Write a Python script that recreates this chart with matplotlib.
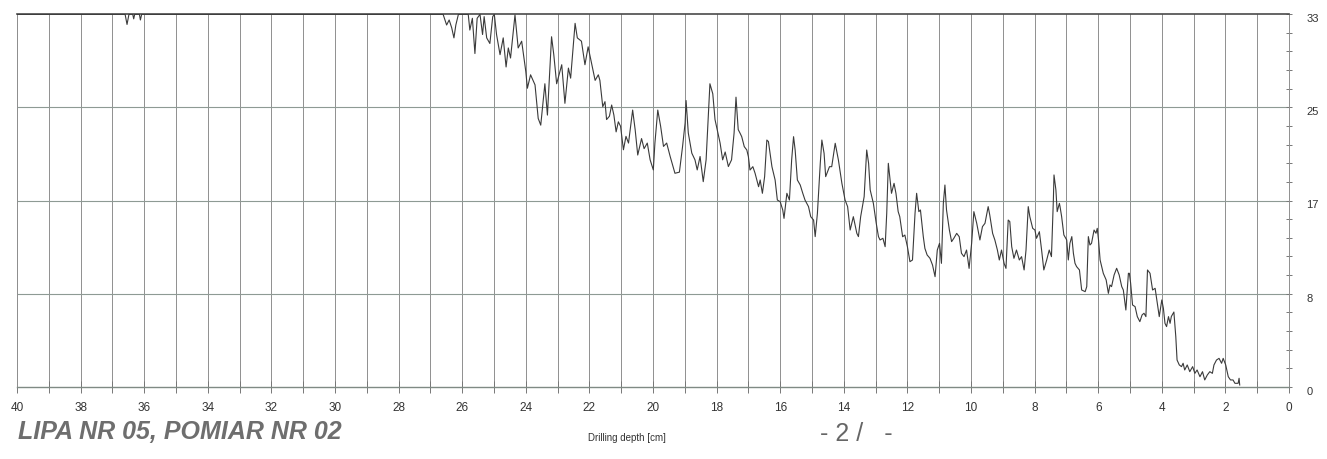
import matplotlib.pyplot as plt
from matplotlib.ticker import FixedLocator, FuncFormatter

# resistance trace read along the drilling path (depth in cm, amplitude)
depth = [
    40.0, 36.60, 36.54, 36.48, 36.36, 36.33, 36.30, 36.15, 36.12, 36.08, 26.75,
    26.70, 26.60, 26.49, 26.41, 26.33, 26.26, 26.20, 26.12, 25.81, 25.76,
    25.68, 25.60, 25.53, 25.44, 25.36, 25.31, 25.23, 25.13, 25.04, 24.99,
    24.92, 24.81, 24.71, 24.62, 24.55, 24.48, 24.34, 24.24, 24.13, 24.00,
    23.95, 23.85, 23.71, 23.61, 23.53, 23.40, 23.32, 23.19, 23.12, 23.03,
    22.87, 22.77, 22.66, 22.59, 22.45, 22.38, 22.25, 22.14, 22.04, 21.93,
    21.82, 21.72, 21.67, 21.58, 21.51, 21.46, 21.37, 21.30, 21.23, 21.16,
    21.09, 21.02, 20.93, 20.85, 20.77, 20.64, 20.56, 20.48, 20.36, 20.28,
    20.18, 20.09, 19.99, 19.94, 19.85, 19.76, 19.67, 19.57, 19.46, 19.31,
    19.17, 19.07, 18.99, 18.96, 18.89, 18.78, 18.68, 18.61, 18.52, 18.42,
    18.33, 18.26, 18.21, 18.12, 18.05, 17.98, 17.89, 17.81, 17.73, 17.63,
    17.53, 17.45, 17.39, 17.32,
    17.26, 17.21, 17.13, 17.05, 17.00, 16.95, 16.86, 16.79, 16.68, 16.63,
    16.56, 16.49, 16.42, 16.37, 16.26, 16.16, 16.09, 16.00, 15.92, 15.88,
    15.79, 15.71, 15.64, 15.58, 15.53, 15.46, 15.37, 15.29, 15.22, 15.11,
    15.04, 14.95, 14.90, 14.83, 14.74, 14.69, 14.62, 14.57, 14.45, 14.38,
    14.27, 14.17, 14.06, 13.96, 13.88, 13.80, 13.70, 13.59, 13.54, 13.47,
    13.36, 13.28, 13.22, 13.17, 13.07, 12.98, 12.91, 12.86, 12.77, 12.70,
    12.65, 12.60,
    12.50, 12.42, 12.36, 12.29, 12.24, 12.15, 12.08, 12.00, 11.92, 11.84,
    11.76, 11.71, 11.64, 11.59, 11.50, 11.45, 11.38, 11.29, 11.21, 11.13,
    11.06, 10.99, 10.93, 10.87, 10.82, 10.77, 10.68, 10.61, 10.54, 10.45,
    10.37, 10.30, 10.22, 10.14, 10.06, 9.98, 9.91, 9.82, 9.77, 9.72,
    9.64, 9.56, 9.46, 9.41, 9.32, 9.25, 9.17, 9.11, 9.04, 8.96,
    8.90, 8.83, 8.78, 8.72, 8.65, 8.57, 8.48, 8.41, 8.33, 8.27,
    8.20, 8.15, 8.06, 7.99, 7.94, 7.85, 7.78, 7.71, 7.62, 7.54,
    7.47, 7.41, 7.39, 7.33, 7.29, 7.22,
    7.20, 7.15, 7.08, 6.99, 6.94, 6.89, 6.83, 6.78, 6.73, 6.68,
    6.59, 6.52, 6.41, 6.36, 6.31, 6.26, 6.21, 6.13, 6.07, 6.03,
    5.99, 5.94, 5.89, 5.84, 5.75, 5.68, 5.63, 5.58, 5.50, 5.42,
    5.34, 5.26, 5.21, 5.13, 5.05, 5.02, 4.98, 4.92, 4.84, 4.77,
    4.69, 4.62, 4.56, 4.50, 4.45, 4.37, 4.29, 4.21, 4.14, 4.08,
    4.00, 3.95, 3.90, 3.85, 3.79, 3.74,
    3.70, 3.62, 3.56, 3.52, 3.45, 3.38, 3.33, 3.28, 3.20, 3.12,
    3.03, 2.96, 2.89, 2.80, 2.72, 2.65, 2.57, 2.49, 2.41, 2.36,
    2.28, 2.20, 2.12, 2.07, 1.99, 1.91, 1.84, 1.76, 1.70, 1.60,
    1.57, 1.55,
]
amplitude = [
    33.3, 33.3, 32.4, 33.3, 33.3, 32.9, 33.3, 33.3, 32.8, 33.3, 33.3,
    33.3, 33.3, 32.35, 32.8, 32.1, 31.2, 32.35, 33.3, 33.3, 31.9,
    32.95, 29.8, 32.95, 33.3, 31.5, 33.1, 31.2, 30.7, 33.1, 33.3,
    31.5, 29.7, 31.2, 28.6, 30.3, 29.4, 33.25, 30.3, 30.9, 28.2,
    26.7, 27.9, 27.0, 24.0, 23.4, 27.1, 24.3, 31.3, 29.7, 27.1,
    28.8, 25.35, 28.5, 27.6, 32.5, 31.2, 30.9, 28.8, 30.4, 28.9,
    27.4, 27.9, 27.4, 25.05, 25.5, 23.9, 24.2, 25.2, 24.3, 22.8,
    23.7, 23.3, 21.2, 22.4, 21.8, 24.75, 22.97, 20.73, 22.2, 21.3,
    21.8, 20.3, 19.4, 21.8, 24.75, 23.3, 21.5, 21.8, 20.6, 19.1,
    19.2, 21.5, 23.6, 25.6, 22.7, 20.9, 20.3, 19.4, 20.6, 18.35,
    20.3, 24.2, 27.1, 26.2, 23.9, 23.0, 21.8, 20.3, 21.0, 19.7,
    20.3, 22.7, 25.9, 23.0,
    22.67, 22.37, 21.48, 21.18, 20.58, 19.39, 19.69, 19.10, 17.90, 18.50,
    17.31, 18.80, 22.07, 21.93, 19.69, 18.50, 16.71, 16.56, 15.82, 15.07,
    17.31, 16.71, 20.29, 22.37, 21.18, 18.50, 18.05, 17.31, 16.71, 16.12,
    15.22, 14.92, 13.44, 15.52, 19.99, 22.07, 20.88, 18.80, 19.69, 19.69,
    21.78, 20.29, 18.20, 16.71, 16.12, 14.03, 15.22, 13.73, 13.44, 15.22,
    17.01, 21.18, 19.99, 17.61, 16.41, 14.63, 13.44, 13.14, 13.29, 12.54,
    15.52, 19.99,
    17.31, 18.20, 17.31, 15.67, 15.22, 13.43, 13.58, 12.54, 11.20, 11.35,
    15.52, 17.31, 15.67, 15.82, 13.43, 12.39, 11.80, 11.50, 10.90, 9.86,
    12.24, 12.84, 11.05, 16.41, 18.05, 15.82, 14.03, 12.99, 13.29, 13.73,
    13.43, 11.95, 11.65, 12.24, 10.60, 12.84, 15.67, 14.63, 13.88, 13.14,
    14.33, 14.63, 16.12, 15.37, 13.73, 13.14, 12.24, 11.35, 12.24, 11.05,
    10.60, 14.92, 14.78, 12.54, 11.50, 12.24, 11.35, 11.65, 10.46, 12.24,
    16.12, 15.22, 14.18, 14.03, 13.29, 13.88, 12.24, 10.46, 11.35, 12.24,
    11.65, 16.71, 18.95, 17.61, 15.67, 16.41,
    16.12, 15.23, 13.59, 13.14, 11.35, 12.84, 13.44, 11.95, 11.06, 10.76,
    10.46, 8.67, 8.52, 8.97, 13.44, 12.69, 12.84, 14.03, 13.74, 14.18,
    13.14, 11.35, 10.76, 10.16, 9.57, 8.37, 9.12, 8.97, 10.01, 10.61,
    10.01, 8.97, 8.67, 6.88, 10.16, 10.16, 9.27, 7.33, 7.18, 6.29,
    5.84, 6.44, 6.59, 6.29, 10.46, 10.16, 8.67, 8.82, 7.48, 6.29,
    7.78, 7.03, 5.69, 5.40, 6.29, 5.69,
    6.30, 6.70, 4.50, 2.41, 1.97, 1.82, 2.12, 1.52, 1.97, 1.37,
    1.82, 1.22, 1.52, 0.92, 1.37, 0.63, 1.07, 1.37, 1.22, 1.97,
    2.41, 2.56, 2.12, 2.56, 1.97, 0.92, 0.63, 0.63, 0.33, 0.33,
    0.78, 0.18,
]

# amplitude scale: four equal bands, labelled with rounded values
y_levels = [0, 25 / 3, 50 / 3, 25, 100 / 3]
y_labels = ["0", "8", "17", "25", "33"]
x_ticks = list(range(0, 41))

plt.rcParams['font.family'] = ['Liberation Sans', 'DejaVu Sans']

fig = plt.figure(figsize=(13.27, 4.59), dpi=100)
ax = fig.add_axes([17 / 1327, 1 - 387 / 459, 1272 / 1327, 373 / 459])

# vertical cm grid and horizontal band lines
for d in x_ticks:
    ax.axvline(d, color='#8f8f8f', lw=0.7, zorder=1)
for lv in y_levels[1:-1]:
    ax.axhline(lv, color='#8e9a94', lw=0.8, zorder=1)

ax.plot(depth, amplitude, color='#3a3a3a', lw=0.8, zorder=3)

ax.set_xlim(40, 0)
ax.set_ylim(0, 100 / 3)

ax.spines['top'].set_color('#4a4a4a')
ax.spines['top'].set_linewidth(1.2)
ax.spines['bottom'].set_color('#7f8a84')
ax.spines['bottom'].set_linewidth(1.0)
ax.spines['left'].set_color('#8f8f8f')
ax.spines['left'].set_linewidth(0.7)
ax.spines['right'].set_color('#8f8f8f')
ax.spines['right'].set_linewidth(0.7)

ax.xaxis.set_major_locator(FixedLocator(x_ticks))
ax.xaxis.set_major_formatter(FuncFormatter(lambda v, p: f"{int(round(v))}" if round(v) % 2 == 0 else ""))
ax.tick_params(axis='x', direction='inout', length=8, width=0.7, color='#777777',
               pad=7, labelsize=8.5, labelcolor='#333333')

ax.yaxis.tick_right()
ax.set_yticks(y_levels, labels=y_labels)
ax.set_yticks([i * 5 / 3 for i in range(21)], minor=True)
ax.tick_params(axis='y', which='both', direction='inout', length=5, width=0.7,
               color='#777777', pad=10, labelsize=8, labelcolor='#333333')
for lab in ax.get_yticklabels():
    lab.set_verticalalignment('top')

fig.text(18 / 1327, 1 - 432 / 459, "LIPA NR 05, POMIAR NR 02", ha='left', va='center',
         fontsize=18, fontstyle='italic', fontweight='bold', color='#6e6e6e')
fig.text(627 / 1327, 1 - 438 / 459, "Drilling depth [cm]", ha='center', va='center',
         fontsize=7, color='#333333')
fig.text(820 / 1327, 1 - 434 / 459, "- 2 /   -", ha='left', va='center',
         fontsize=18, color='#666666')

fig.savefig("out.png", dpi=100)
